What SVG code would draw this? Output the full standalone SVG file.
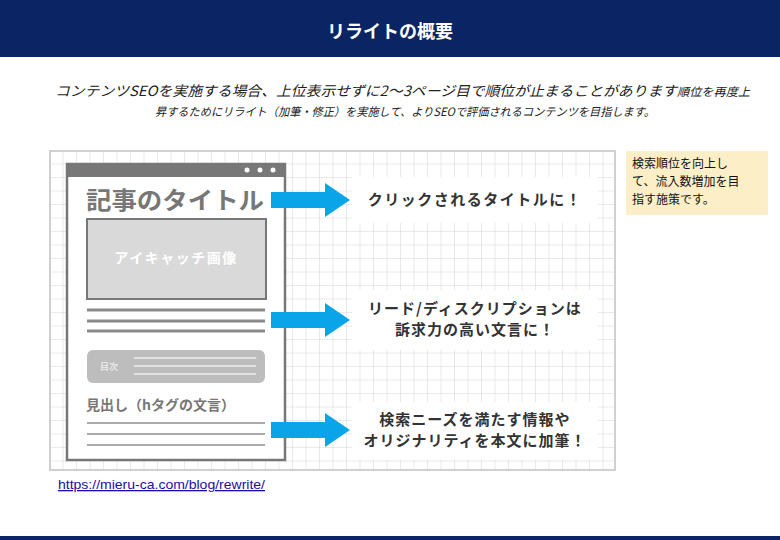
<svg xmlns="http://www.w3.org/2000/svg" width="780" height="540" viewBox="0 0 780 540">
<style>
.jp{font-family:"Noto Sans CJK JP","Liberation Sans",sans-serif}
.it{font-style:italic}
.arr{fill:#0aa5e8}
.ln{stroke:#8a8a8a;stroke-width:3}
.lbl{fill:#fff}
.lt{font-family:"Noto Sans CJK JP",sans-serif;font-weight:bold;font-size:15px;fill:#333;text-anchor:middle}
</style>
<defs>
<pattern id="grid" x="50" y="151" width="13.5" height="13.5" patternUnits="userSpaceOnUse">
<path d="M13.5 0V13.5H0" fill="none" stroke="#cfd3d8" stroke-width="1"/>
</pattern>
</defs>
<rect width="780" height="540" fill="#fff"/>
<g id="header">
<rect width="780" height="57" fill="#0b2463"/>
<text x="390" y="38" class="jp" font-size="18" font-weight="bold" fill="#fff" text-anchor="middle">リライトの概要</text>
</g>
<g id="intro" class="jp it" fill="#222">
<text x="55" y="96" font-size="14" textLength="695" lengthAdjust="spacingAndGlyphs">コンテンツSEOを実施する場合、上位表示せずに2～3ページ目で順位が止まることがあります<tspan font-size="11.5">順位を再度上</tspan></text>
<text x="155" y="116" font-size="11.5" textLength="500" lengthAdjust="spacingAndGlyphs">昇するためにリライト（加筆・修正）を実施して、よりSEOで評価されるコンテンツを目指します。</text>
</g>
<g id="panel">
<rect x="50" y="151" width="565" height="319" fill="#fff"/>
<rect x="50" y="151" width="565" height="319" fill="url(#grid)" stroke="#d0d0d0" stroke-width="2"/>
</g>
<g id="browser">
<rect x="67" y="164" width="218" height="296" fill="#fff" stroke="#777" stroke-width="2.5"/>
<rect x="67" y="164" width="218" height="13" fill="#777"/>
<circle cx="247" cy="170" r="2.5" fill="#fff"/><circle cx="260" cy="170" r="2.5" fill="#fff"/><circle cx="273" cy="170" r="2.5" fill="#fff"/>
<text x="86" y="209" class="jp" font-size="24" font-weight="bold" fill="#777" textLength="178" lengthAdjust="spacingAndGlyphs">記事のタイトル</text>
<rect x="87" y="219" width="179" height="80" fill="#d9d9d9" stroke="#777" stroke-width="2"/>
<text x="176" y="263" class="jp" font-size="14" font-weight="bold" fill="#fff" text-anchor="middle" letter-spacing="1.5">アイキャッチ画像</text>
<line class="ln" x1="87" y1="310" x2="265" y2="310"/><line class="ln" x1="87" y1="321" x2="265" y2="321"/><line class="ln" x1="87" y1="331" x2="265" y2="331"/>
<rect x="87" y="350" width="178" height="33" rx="6" fill="#bdbdbd"/>
<text x="100" y="370" class="jp" font-size="9" font-weight="bold" fill="#e8e8e8">目次</text>
<line x1="134" y1="358" x2="256" y2="358" stroke="#eee" stroke-width="1.5"/><line x1="134" y1="366" x2="256" y2="366" stroke="#eee" stroke-width="1.5"/><line x1="134" y1="374" x2="256" y2="374" stroke="#eee" stroke-width="1.5"/>
<text x="86" y="410" class="jp" font-size="14" font-weight="bold" fill="#777">見出し（hタグの文言）</text>
<line x1="87" y1="423" x2="265" y2="423" stroke="#aaa" stroke-width="2"/><line x1="87" y1="434" x2="265" y2="434" stroke="#aaa" stroke-width="2"/><line x1="87" y1="445" x2="265" y2="445" stroke="#aaa" stroke-width="2"/>
</g>
<g id="connectors">
<polygon class="arr" points="271,192 325,192 325,183 350,200 325,217 325,208 271,208"/>
<polygon class="arr" points="271,312 325,312 325,303 350,320 325,337 325,328 271,328"/>
<polygon class="arr" points="271,422 325,422 325,413 350,430 325,447 325,438 271,438"/>
</g>
<g id="label1"><rect class="lbl" x="352" y="177" width="246" height="46"/><text class="lt" x="475" y="205" letter-spacing="1.5">クリックされるタイトルに！</text></g>
<g id="label2"><rect class="lbl" x="352" y="290" width="246" height="60"/><text class="lt" x="475" y="314" letter-spacing="1">リード/ディスクリプションは</text><text class="lt" x="475" y="335" letter-spacing="1">訴求力の高い文言に！</text></g>
<g id="label3"><rect class="lbl" x="352" y="402" width="246" height="58"/><text class="lt" x="475" y="425" letter-spacing="1">検索ニーズを満たす情報や</text><text class="lt" x="475" y="446" letter-spacing="1">オリジナリティを本文に加筆！</text></g>
<g id="note">
<rect x="626" y="151" width="142" height="64" fill="#fcefc8"/>
<g class="jp" font-size="12" fill="#111"><text x="632" y="168">検索順位を向上し</text><text x="632" y="186">て、流入数増加を目</text><text x="632" y="204">指す施策です。</text></g>
</g>
<g id="link"><text x="58" y="489" font-family="Liberation Sans,sans-serif" font-size="13" fill="#1a0dab" text-decoration="underline" textLength="207" lengthAdjust="spacingAndGlyphs">https://mieru-ca.com/blog/rewrite/</text></g>
<rect x="0" y="536" width="780" height="4" fill="#0b2463"/>
</svg>
